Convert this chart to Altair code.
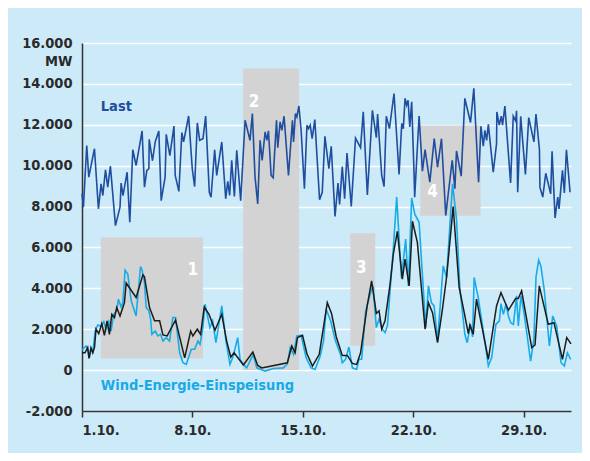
import altair as alt
import pandas as pd

# ---- data (days since 1 Oct, MW) ----
last_day = [0.0, 0.09, 0.30, 0.43, 0.79, 1.04, 1.21, 1.32, 1.49, 1.63, 1.80, 2.12, 2.41, 2.48, 2.60, 2.86,
            3.03, 3.22, 3.43, 3.81, 3.96, 4.11, 4.24, 4.26, 4.47, 4.64, 4.87, 5.02, 5.27, 5.34, 5.57, 5.83,
            5.91, 6.14, 6.33, 6.44, 6.76, 6.99, 7.14, 7.31, 7.46, 7.67, 7.84, 8.07, 8.18, 8.41, 8.54, 8.86,
            9.11, 9.24, 9.36, 9.49, 9.66, 9.81, 10.06, 10.34, 10.65, 10.80, 10.97, 11.14, 11.29, 11.42, 11.61,
            11.72, 11.82, 11.99, 12.12, 12.33, 12.41, 12.56, 12.67, 12.81, 13.09, 13.34, 13.41, 13.53, 13.62,
            13.75, 13.89, 14.10, 14.26, 14.36, 14.47, 14.59, 14.76, 15.06, 15.23, 15.40, 15.65, 15.80, 16.04,
            16.23, 16.33, 16.50, 16.65, 16.80, 17.07, 17.34, 17.66, 17.83, 18.09, 18.41, 18.66, 18.74, 19.00,
            19.15, 19.29, 19.49, 19.78, 20.10, 20.27, 20.37, 20.48, 20.58, 20.67, 20.78, 20.90, 21.05, 21.09,
            21.37, 21.58, 21.75, 22.05, 22.33, 22.54, 22.79, 23.06, 23.23, 23.47, 23.64, 23.74, 24.04, 24.27,
            24.63, 24.84, 25.14, 25.29, 25.44, 25.54, 25.65, 25.76, 26.07, 26.28, 26.30, 26.45, 26.58, 26.66,
            26.81, 27.17, 27.34, 27.49, 27.55, 27.62, 27.81, 28.11, 28.32, 28.65, 28.78, 29.00, 29.03, 29.21,
            29.40, 29.71, 29.80, 29.99, 30.16, 30.24, 30.46, 30.58, 30.71, 30.94]
last_mw = [8620, 7970, 10990, 9440, 10830, 7890, 9110, 8540, 9800, 8950, 9980, 7070, 7970, 9150, 8540, 9680,
           7230, 10780, 10010, 11700, 8950, 9770, 9850, 11290, 10240, 11160, 11700, 8290, 9440, 11530, 10490, 11940,
           9520, 8740, 11620, 11160, 12430, 9850, 8980, 12090, 11240, 11320, 12430, 8700, 8460, 10780, 9520, 11160,
           8380, 9230, 8540, 10260, 8490, 10750, 8290, 12220, 11240, 12550, 9440, 8130, 11240, 10260, 11650,
           11240, 11700, 9520, 9410, 12220, 10880, 12140, 11730, 12420, 9520, 12220, 11160, 12550, 12380,
           12920, 11730, 8870, 11980, 11810, 11980, 11320, 12250, 8330, 8700, 11440, 9850, 10950, 7520,
           9150, 8100, 9960, 8380, 10620, 8000, 11350, 10880, 12630, 8570, 12710, 11370, 12520, 9520,
           8980, 12420, 11810, 13530, 9570, 12060, 11810, 13290, 12960, 13200, 11890, 13120, 9610, 8460,
           12430, 9730, 10780, 9190, 11320, 9930, 11320, 7560, 8700, 10260, 8870, 10720, 9490, 13290,
           12110, 13780, 9190, 11930, 10950, 11730, 11240, 12020, 9680, 11080, 12630, 11980, 12420, 11980,
           12910, 9150, 12420, 12190, 12680, 8700, 12420, 9570, 12350, 11160, 12520, 10780, 8950, 8460,
           9630, 8620, 10700, 7440, 8460, 7890, 9770, 8670, 10780, 8700]

wind_day = [0.0, 0.19, 0.36, 0.44, 0.57, 0.68, 0.79, 0.89, 1.06, 1.25, 1.42, 1.59, 1.74, 1.89, 2.06, 2.20,
            2.41, 2.69, 2.80, 3.43, 3.86, 3.96, 4.28, 4.60, 4.92, 5.13, 5.40, 5.93, 6.51, 6.89, 7.03, 7.31,
            7.52, 7.75, 8.05, 8.43, 8.86, 9.17, 9.43, 9.64, 10.23, 10.83, 11.14, 11.40, 13.02, 13.30, 13.51,
            13.66, 13.98, 14.26, 14.61, 15.04, 15.55, 15.82, 16.12, 16.50, 16.82, 17.14, 17.41, 17.66, 18.08,
            18.36, 18.66, 18.83, 19.00, 19.21, 19.53, 19.74, 19.99, 20.31, 20.48, 20.74, 20.95, 21.26, 21.75,
            21.96, 22.22, 22.54, 22.85, 23.11, 23.53, 23.91, 24.17, 24.49, 24.59, 24.80, 25.01, 25.76, 26.28,
            26.56, 27.03, 27.49, 27.66, 27.87, 28.51, 28.72, 28.99, 29.56, 29.92, 30.46, 30.73, 31.0]
wind_mw = [850, 850, 1100, 570, 1070, 850, 1100, 2000, 1780, 2270, 1700, 2410, 1750, 2730, 2570, 3060,
           2650, 3300, 4260, 3550, 4660, 4560, 3060, 2410, 2410, 1720, 1670, 2450, 600, 1910, 1670, 2000,
           1750, 3090, 2730, 1950, 2730, 1420, 640, 850, 250, 880, 230, 110, 360, 1180, 850,
           1590, 1700, 800, 200, 770, 3300, 2770, 1620, 720, 720, 330, 280, 850, 3140,
           4370, 2770, 2900, 2000, 2410, 4210, 5680, 6790, 4450, 5430, 4120, 7280, 6250, 2000,
           3300, 2810, 1340, 2980, 4530, 8000, 4040, 3060, 1780, 2210, 1750, 3470, 530, 3140,
           3790, 2930, 3500, 3500, 3880, 1100, 1230, 4120, 2240, 2320, 530, 1590, 1280]

feed_day = [0.0, 0.25, 0.36, 0.47, 0.57, 0.70, 0.83, 1.00, 1.21, 1.38, 1.53, 1.70, 1.84, 2.01, 2.20, 2.31,
            2.48, 2.59, 2.73, 2.90, 3.12, 3.43, 3.71, 3.81, 3.96, 4.07, 4.24, 4.35, 4.43, 4.64, 4.81, 4.98,
            5.13, 5.34, 5.55, 5.76, 5.93, 6.19, 6.40, 6.61, 6.93, 7.14, 7.35, 7.48, 7.65, 7.80, 7.94, 8.11,
            8.28, 8.49, 8.86, 9.13, 9.38, 9.59, 9.87, 10.02, 10.23, 10.44, 10.86, 11.08, 11.61, 12.14, 12.77,
            13.02, 13.20, 13.41, 13.62, 13.89, 14.21, 14.52, 14.78, 15.10, 15.31, 15.48, 15.76, 16.07, 16.39,
            16.50, 16.71, 16.92, 17.14, 17.41, 17.56, 17.73, 17.98, 18.30, 18.45, 18.66, 18.83, 19.04, 19.21,
            19.36, 19.74, 19.95, 20.25, 20.52, 20.69, 20.90, 21.09, 21.37, 21.79, 21.96, 22.15, 22.32, 22.54,
            22.90, 23.11, 23.49, 23.74, 23.95, 24.27, 24.42, 24.63, 24.76, 24.86, 25.12, 25.44, 25.76, 25.97,
            26.24, 26.46, 26.56, 26.71, 26.88, 27.03, 27.18, 27.35, 27.55, 27.66, 27.83, 28.02, 28.25, 28.44,
            28.65, 28.78, 28.95, 29.09, 29.31, 29.63, 29.84, 30.09, 30.37, 30.58, 30.77, 30.98]
feed_mw = [980, 1180, 1050, 600, 1100, 900, 1910, 2210, 2150, 2370, 2000, 2370, 1910, 2730, 2900, 3470,
           3090, 3300, 4890, 4700, 3390, 2650, 5070, 4890, 4290, 3060, 2900, 2490, 1750, 1910, 1670, 1750,
           1420, 1590, 1420, 2570, 2570, 850, 360, 280, 1020, 1020, 1420, 1260, 2000, 3220, 2700, 2080,
           2410, 1340, 3140, 1420, 280, 690, 1590, 530, 280, 110, 770, 110, -50, 80, 110,
           300, 1100, 770, 1670, 1700, 600, 110, 30, 690, 1420, 2980, 2410, 1420, 770,
           360, 530, 1130, 110, 30, 530, 530, 2900, 3790, 4120, 2080, 2490, 2000, 1830,
           2160, 6000, 8460, 4500, 6410, 4120, 8420, 7640, 7230, 2080, 4120, 3300, 3140, 1420,
           5100, 4530, 9110, 7400, 4040, 1750, 1340, 2240, 1620, 4530, 3550, 1910, 200, 600,
           2240, 2410, 3250, 2730, 3220, 2650, 2320, 2240, 3630, 2160, 3630, 2810, 1510, 440,
           1510, 4530, 5380, 5100, 3880, 1180, 2650, 2160, 360, 200, 850, 530]

box_start = [1.19, 10.21, 17.01, 21.45]
box_end = [7.67, 13.76, 18.59, 25.27]
box_low = [570, 0, 1190, 7550]
box_high = [6490, 14750, 6700, 11970]
box_label = ["1", "2", "3", "4"]
box_label_day = [7.03, 10.91, 17.71, 22.22]
box_label_mw = [4880, 13130, 4980, 8710]

series_label = ["Last", "Wind-Energie-Einspeisung"]
series_label_day = [1.19, 1.19]
series_label_mw = [12890, -770]
series_label_color = ["#1f4e9e", "#19a9e6"]

x_ticks = [0, 7, 14, 21, 28]
y_ticks = [-2000, 0, 2000, 4000, 6000, 8000, 10000, 12000, 14000, 16000]

# ---- styling ----
BG = "#cdeaf9"
FONT = "Liberation Sans Narrow, DejaVu Sans Condensed, sans-serif"
TXT = "#2a2a2a"

x_scale = alt.Scale(domain=[0, 31], nice=False, zero=False)
y_scale = alt.Scale(domain=[-2000, 16000], nice=False)

x_axis = alt.Axis(values=x_ticks, labelExpr="(datum.value + 1) + '.10.'", grid=False,
                  domainColor="#333333", domainWidth=1.5, tickColor="#333333", tickWidth=1.5,
                  tickSize=6, labelPadding=6, labelFlush=True, labelFont=FONT, labelFontSize=14.5,
                  labelFontWeight="bold", labelColor=TXT, title=None)
y_axis = alt.Axis(values=y_ticks,
                  labelExpr="(datum.value < 0 ? '-' : '') + replace(format(abs(datum.value), ','), ',', '.')",
                  grid=True, gridColor="white", gridWidth=1.6, ticks=False,
                  domainColor="#333333", domainWidth=1.5, labelPadding=10,
                  labelFont=FONT, labelFontSize=14.5, labelFontWeight="bold", labelColor=TXT,
                  title="MW", titleAngle=0, titleAlign="right", titleBaseline="middle",
                  titleX=-10, titleY=18, titleFont=FONT, titleFontSize=14.5, titleFontWeight="bold",
                  titleColor=TXT)


def X(field):
    return alt.X(field, type="quantitative", scale=x_scale, axis=x_axis)


def Y(field):
    return alt.Y(field, type="quantitative", scale=y_scale, axis=y_axis)


boxes = pd.DataFrame({"d0": box_start, "d1": box_end, "v0": box_low, "v1": box_high})
box_txt = pd.DataFrame({"day": box_label_day, "mw": box_label_mw, "t": box_label})
last = pd.DataFrame({"day": last_day, "mw": last_mw})
wind = pd.DataFrame({"day": wind_day, "mw": wind_mw})
feed = pd.DataFrame({"day": feed_day, "mw": feed_mw})
lbl = pd.DataFrame({"day": series_label_day, "mw": series_label_mw, "t": series_label,
                    "c": series_label_color})

rects = alt.Chart(boxes).mark_rect(color="#d3d3d3").encode(
    x=X("d0"), x2="d1", y=Y("v0"), y2="v1")
rect_text = alt.Chart(box_txt).mark_text(color="white", font=FONT, fontSize=17,
                                          fontWeight="bold", align="center",
                                          baseline="middle").encode(
    x=X("day"), y=Y("mw"), text="t:N")
feed_line = alt.Chart(feed).mark_line(color="#17ace8", strokeWidth=1.6).encode(
    x=X("day"), y=Y("mw"))
wind_line = alt.Chart(wind).mark_line(color="#1c1c1c", strokeWidth=1.5).encode(
    x=X("day"), y=Y("mw"))
last_line = alt.Chart(last).mark_line(color="#1f4e9e", strokeWidth=1.6).encode(
    x=X("day"), y=Y("mw"))
labels = alt.Chart(lbl).mark_text(font=FONT, fontSize=14.5, fontWeight="bold", align="left",
                                  baseline="middle").encode(
    x=X("day"), y=Y("mw"), text="t:N", color=alt.Color("c:N", scale=None))

chart = alt.layer(rects, rect_text, feed_line, wind_line, last_line, labels).properties(
    width=489, height=368,
    padding={"left": 74, "top": 35, "right": 11, "bottom": 42},
    autosize=alt.AutoSizeParams(type="none"),
    background=BG,
).configure_view(stroke=None)

chart.save("out.html", embed_options={"renderer": "svg", "actions": False})
